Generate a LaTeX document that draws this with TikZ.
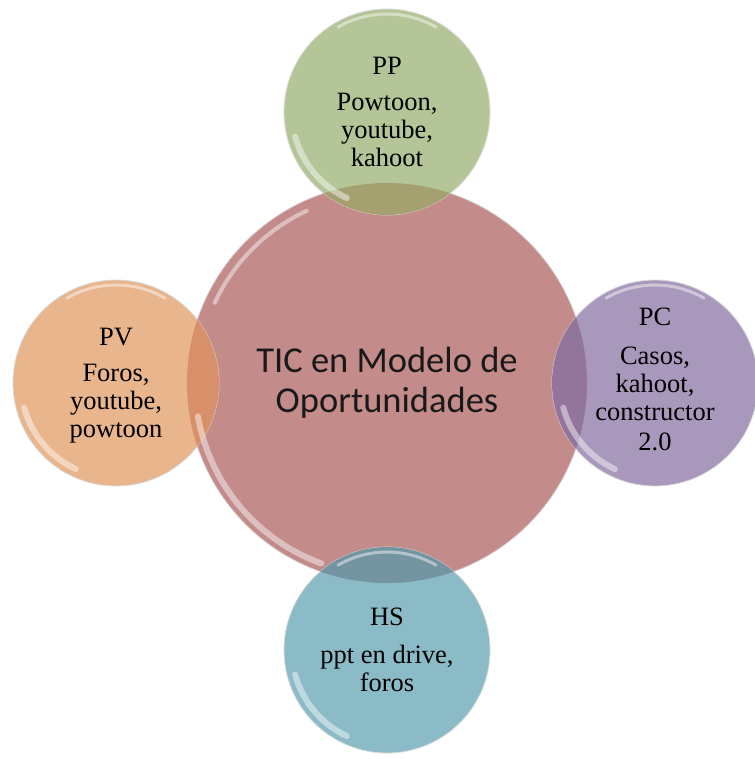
\documentclass[tikz,border=0pt]{standalone}
\usepackage{fontspec}
\setmainfont{Liberation Serif}
\newfontfamily\timesfont{Liberation Serif}
\newfontfamily\calibfont{Carlito}
\definecolor{cRed}{HTML}{C48B8B}
\definecolor{cGreen}{HTML}{B4C697}
\definecolor{cOrange}{HTML}{E8B58D}
\definecolor{cPurple}{HTML}{A898BB}
\definecolor{cTeal}{HTML}{8BBBC7}
\definecolor{oGreen}{HTML}{A4A06F}
\definecolor{oOrange}{HTML}{D8906A}
\definecolor{oPurple}{HTML}{93749A}
\definecolor{oTeal}{HTML}{7394A0}
\begin{document}
\begin{tikzpicture}[x=1pt,y=-1pt]
\tikzset{
  bubble/.style={circle, minimum size=206pt, inner sep=0pt, draw=black!15, line width=0.8pt},
  bigbubble/.style={circle, minimum size=400pt, inner sep=0pt, draw=black!15, line width=0.8pt},
  gloss/.style={white, line width=#1, opacity=0.45, line cap=round},
  satlabel/.style={align=center, font=\timesfont\fontsize{26.5}{28}\selectfont, text=black},
  centerlabel/.style={align=center, font=\calibfont\fontsize{36.5}{40.5}\selectfont, text=black!90}
}
\useasboundingbox (0,0) rectangle (754,759);
% circles
\node[bigbubble, fill=cRed] (C) at (387,383) {};
\node[bubble, fill=cGreen] (PP) at (387,112) {};
\node[bubble, fill=cOrange] (PV) at (116,383) {};
\node[bubble, fill=cPurple] (PC) at (655,383) {};
\node[bubble, fill=cTeal] (HS) at (387,650) {};
% overlaps
\begin{scope}
  \clip (C.center) circle (200);
  \fill[oGreen] (PP.center) circle (103);
  \fill[oOrange] (PV.center) circle (103);
  \fill[oPurple] (PC.center) circle (103);
  \fill[oTeal] (HS.center) circle (103);
\end{scope}
% glossy highlights (angles in flipped y: 90 = down)
\draw[gloss=4pt] ([shift={(205:190)}]C.center) arc[start angle=205, end angle=245, radius=190];
\draw[gloss=6pt] ([shift={(110:192)}]C.center) arc[start angle=110, end angle=170, radius=192];
\foreach \n in {PP,PV,PC,HS}{
  \draw[gloss=3pt] ([shift={(240:98)}]\n.center) arc[start angle=240, end angle=300, radius=98];
  \draw[gloss=6pt] ([shift={(115:95)}]\n.center) arc[start angle=115, end angle=165, radius=95];
}
% texts
\node[centerlabel] (tC) at (C.center) {TIC en Modelo de\\Oportunidades};
\node[satlabel] (tPP) at (PP.center) {PP\\[8pt]Powtoon,\\youtube,\\kahoot};
\node[satlabel] (tPV) at ([yshift=-3pt]PV.center) {PV\\[8pt]Foros,\\youtube,\\powtoon};
\node[satlabel] (tPC) at ([yshift=3.5pt]PC.center) {PC\\[11pt]Casos,\\kahoot,\\constructor\\[2pt]2.0};
\node[satlabel] (tHS) at (HS.center) {HS\\[10pt]ppt en drive,\\foros};
\end{tikzpicture}
\end{document}
